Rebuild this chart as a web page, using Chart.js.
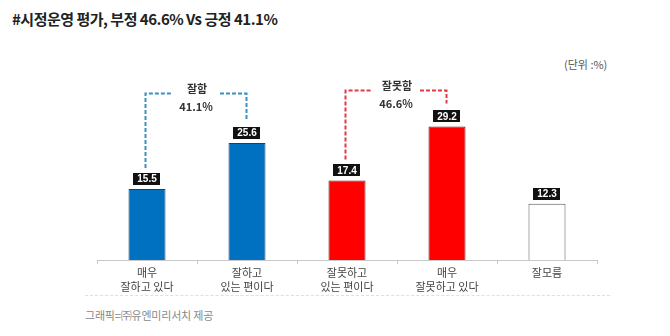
<!DOCTYPE html>
<html>
<head>
<meta charset="utf-8">
<script src="https://cdn.jsdelivr.net/npm/chart.js@4.4.0/dist/chart.umd.min.js"></script>
<style>
  html, body { margin: 0; padding: 0; background: #fff; }
  body { width: 670px; height: 336px; position: relative; overflow: hidden; font-family: "Noto Sans CJK KR", "Noto Sans", sans-serif; }
  #title { position: absolute; left: 12px; top: 8px; font-size: 15px; font-weight: bold; color: #222; line-height: 22px; letter-spacing: -0.5px; }
  #unit { position: absolute; left: 564px; top: 57px; font-size: 11px; color: #555; line-height: 14px; }
  #sep { position: absolute; left: 85px; top: 295px; width: 525px; height: 0; border-top: 1px dashed #cfe6e6; }
  #source { position: absolute; left: 85px; top: 306px; font-size: 11px; color: #888; line-height: 18px; letter-spacing: -0.2px; }
  #wrap { position: absolute; left: 0; top: 0; width: 670px; height: 336px; }
</style>
</head>
<body>
<div id="title">#시정운영 평가, 부정 46.6% Vs 긍정 41.1%</div>
<div id="unit">(단위 :%)</div>
<div id="sep"></div>
<div id="source">그래픽=㈜유엔미리서치 제공</div>
<div id="wrap"><canvas id="pollChart"></canvas></div>
<script>
// categories and values
const categories = [
    ['매우', '잘하고 있다'],
    ['잘하고', '있는 편이다'],
    ['잘못하고', '있는 편이다'],
    ['매우', '잘못하고 있다'],
    ['잘모름']
];
const values = [15.5, 25.6, 17.4, 29.2, 12.3];

// bracket groups: which bars, caption, and the value level of the bracket line
const groupLabels = ['잘함', '잘못함'];
const groupBars = [[0, 1], [2, 3]];
const groupLevels = [36.4, 37.1];

const barColors = ['#0070c0', '#0070c0', '#ff0000', '#ff0000', '#ffffff'];
const barBorders = ['#1d3f66', '#1d3f66', '#7a1414', '#7a1414', '#555555'];
const groupColors = ['#3d8fc4', '#e23a44'];

const FONT = '"Noto Sans CJK KR", "Noto Sans", sans-serif';

// black value boxes above bars + dashed brackets with group totals
const labelPlugin = {
    id: 'labelPlugin',
    afterDatasetsDraw(chart) {
        const c = chart.ctx;
        const meta = chart.getDatasetMeta(0);
        const yScale = chart.scales.y;
        const boxTops = [];

        c.save();
        c.font = 'bold 10px "Liberation Sans", Arial, sans-serif';
        c.textAlign = 'center';
        c.textBaseline = 'middle';
        meta.data.forEach((bar, i) => {
            const txt = values[i].toFixed(1);
            const w = c.measureText(txt).width + 8;
            const h = 12;
            const bottom = bar.y - 4;
            c.fillStyle = '#111';
            c.fillRect(Math.round(bar.x - w / 2), Math.round(bottom - h), Math.round(w), h);
            c.fillStyle = '#fff';
            c.fillText(txt, bar.x, bottom - h / 2 + 0.5);
            boxTops.push(bottom - h);
        });

        groupBars.forEach((idx, g) => {
            const a = meta.data[idx[0]];
            const b = meta.data[idx[1]];
            const lineY = Math.round(yScale.getPixelForValue(groupLevels[g])) + 0.5;
            const x1 = Math.round(a.x) - 1.5;
            const x2 = Math.round(b.x) - 0.5;
            const mid = (x1 + x2) / 2;
            const gap = 24;
            c.strokeStyle = groupColors[g];
            c.lineWidth = 2;
            c.setLineDash([4, 2]);
            c.beginPath();
            c.moveTo(x1, boxTops[idx[0]] - 5);
            c.lineTo(x1, lineY);
            c.lineTo(mid - gap, lineY);
            c.moveTo(mid + gap, lineY);
            c.lineTo(x2, lineY);
            c.lineTo(x2, boxTops[idx[1]] - 7);
            c.stroke();
            c.setLineDash([]);

            const total = values[idx[0]] + values[idx[1]];
            c.fillStyle = '#333';
            c.font = 'bold 11px ' + FONT;
            c.fillText(groupLabels[g], mid + 1, lineY - 5);
            c.fillText(total.toFixed(1) + '%', mid, lineY + 13);
        });
        c.restore();
    }
};

const ctx = document.getElementById('pollChart').getContext('2d');
const pollChart = new Chart(ctx, {
    type: 'bar',
    data: {
        labels: categories,
        datasets: [{
            data: values,
            backgroundColor: barColors,
            borderColor: barBorders,
            borderWidth: 1,
            barPercentage: 0.37,
            categoryPercentage: 1
        }]
    },
    options: {
        responsive: true,
        maintainAspectRatio: false,
        animation: false,
        events: [],
        layout: {
            padding: { left: 97, right: 73, top: 77, bottom: 40 }
        },
        plugins: {
            legend: { display: false },
            tooltip: { enabled: false }
        },
        scales: {
            x: {
                grid: {
                    offset: true,
                    drawOnChartArea: false,
                    drawTicks: true,
                    tickLength: 4,
                    color: '#c8c8c8'
                },
                border: { color: '#c8c8c8' },
                ticks: {
                    color: '#444',
                    padding: 2,
                    maxRotation: 0,
                    font: { family: FONT, size: 11, lineHeight: 1.27 }
                }
            },
            y: {
                display: false,
                min: 0,
                max: 40
            }
        }
    },
    plugins: [labelPlugin]
});
</script>
</body>
</html>
